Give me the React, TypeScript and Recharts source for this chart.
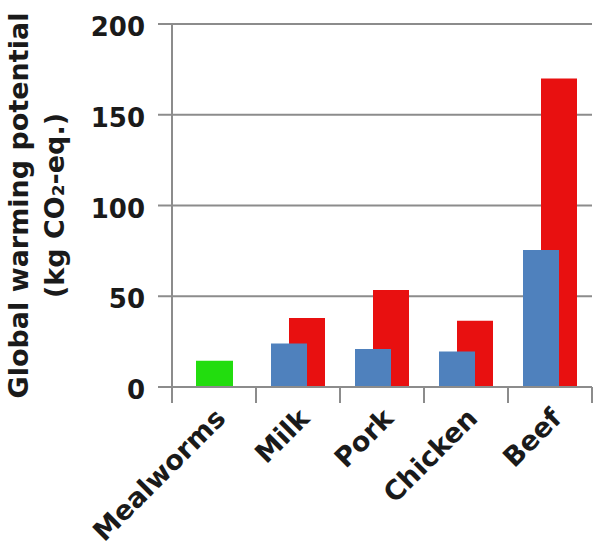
import { BarChart, Bar, XAxis, YAxis, CartesianGrid } from "recharts";

const categories = ["Mealworms", "Milk", "Pork", "Chicken", "Beef"];
const insectValues = [14.5, null, null, null, null];
const lowValues = [null, 24, 21, 19.5, 75.5];
const highValues = [null, 38, 53.5, 36.5, 170];
const yTicks = [0, 50, 100, 150, 200];

const data = categories.map((name, i) => ({
    name,
    insect: insectValues[i],
    low: lowValues[i],
    high: highValues[i],
}));

const FONT = "'DejaVu Sans', sans-serif";
const INK = "#1a1a1a";
const AXIS = "#8c8c8c";
const TICK_LEN = 16;

function YTick({ x, y, payload }: any) {
    return (
        <text x={x} y={y} dy={12} textAnchor="end" fontFamily={FONT} fontWeight="bold" fontSize={26} fill={INK}>
            {payload.value}
        </text>
    );
}

// category label plus tick marks at the band edges
function XTick({ x, y, payload, index, visibleTicksCount, width }: any) {
    const half = payload.offset || (width / visibleTicksCount) / 2;
    const ax = x + 13;
    const ay = y + 33;
    return (
        <g>
            <line x1={x - half} x2={x - half} y1={y} y2={y + TICK_LEN} stroke={AXIS} strokeWidth={2} />
            {index === visibleTicksCount - 1 && (
                <line x1={x + half} x2={x + half} y1={y} y2={y + TICK_LEN} stroke={AXIS} strokeWidth={2} />
            )}
            <text x={ax} y={ay} textAnchor="end" transform={`rotate(-45 ${ax} ${ay})`}
                fontFamily={FONT} fontWeight="bold" fontSize={27} fill={INK}>
                {payload.value}
            </text>
        </g>
    );
}

function YTitle({ viewBox }: any) {
    const cy = viewBox.y + viewBox.height / 2;
    return (
        <g fontFamily={FONT} fontWeight="bold" fontSize={27} fill={INK} textAnchor="middle">
            <text x={28} y={cy} transform={`rotate(-90 28 ${cy})`}>Global warming potential</text>
            <text x={64} y={cy} transform={`rotate(-90 64 ${cy})`}>(kg CO₂-eq.)</text>
        </g>
    );
}

export default function App() {
    return (
        <div style={{ position: "absolute", left: 0, top: 0, width: 600, height: 555, background: "white" }}>
            <BarChart width={600} height={555} data={data} margin={{ top: 24, right: 8, bottom: 0, left: 0 }}
                barGap={-18}>
                <CartesianGrid xAxisId="cat" vertical={false} stroke={AXIS} strokeWidth={2} />
                <XAxis xAxisId="cat" dataKey="name" height={168} axisLine={{ stroke: AXIS, strokeWidth: 2 }}
                    tickLine={false} tickSize={0} tickMargin={0} interval={0} tick={<XTick />} />
                <XAxis xAxisId="g" dataKey="name" hide />
                <YAxis width={172} domain={[0, 200]} ticks={yTicks} tickSize={14} tickMargin={13}
                    axisLine={{ stroke: AXIS, strokeWidth: 2 }} tickLine={{ stroke: AXIS, strokeWidth: 2 }}
                    tick={<YTick />} label={<YTitle />} />
                <Bar xAxisId="g" dataKey="insect" fill="#22dd0e" barSize={37} isAnimationActive={false} />
                <Bar xAxisId="cat" dataKey="high" fill="#e81010" barSize={36} isAnimationActive={false} />
                <Bar xAxisId="cat" dataKey="low" stackId="b" fill="#4f81bd" barSize={36} isAnimationActive={false} />
            </BarChart>
        </div>
    );
}
